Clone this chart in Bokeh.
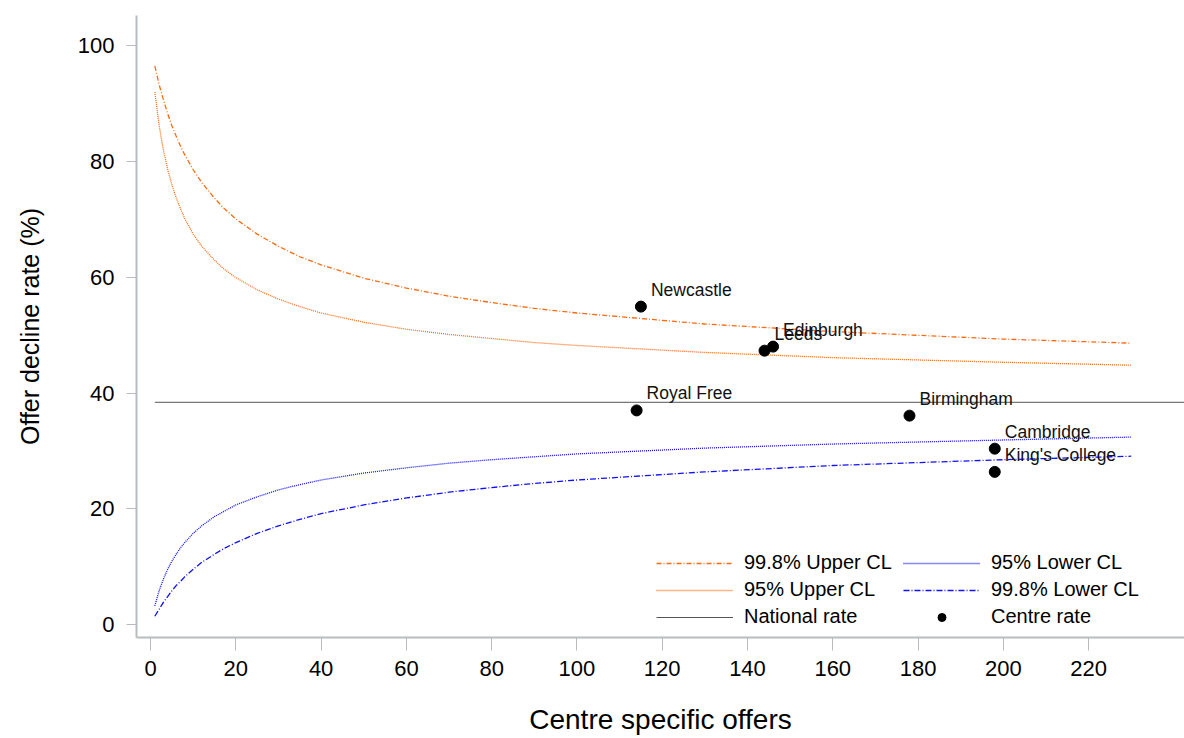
from bokeh.plotting import figure
from bokeh.models import Range1d, Legend, LegendItem, FixedTicker, ColumnDataSource
from bokeh.core.properties import value
from bokeh.embed import file_html
from bokeh.resources import INLINE

# Control limits (percent) at selected numbers of offers
n_offers = [1, 2, 3, 4, 5, 6, 7, 8, 10, 12, 15, 17, 20, 25, 30, 35, 40, 50, 60, 70, 80, 90, 100, 130, 160, 200, 230]
upper_998 = [96.4, 93.2, 90.6, 88.2, 86.1, 84.3, 82.6, 81.1, 78.5, 76.3, 73.6, 72.0, 70.0, 67.4, 65.3, 63.5, 62.1,
             59.8, 58.1, 56.7, 55.6, 54.6, 53.8, 51.9, 50.6, 49.3, 48.6]
upper_95 = [91.9, 86.2, 81.9, 78.6, 75.9, 73.7, 71.8, 70.1, 67.4, 65.3, 62.9, 61.5, 59.9, 57.8, 56.2, 54.9, 53.8,
            52.2, 51.0, 50.1, 49.4, 48.7, 48.2, 47.0, 46.1, 45.3, 44.8]
lower_95 = [3.3, 5.9, 7.9, 9.6, 11.0, 12.2, 13.3, 14.2, 15.8, 17.1, 18.7, 19.5, 20.7, 22.1, 23.3, 24.2, 25.0,
            26.2, 27.1, 27.9, 28.5, 29.0, 29.5, 30.5, 31.2, 31.9, 32.4]
lower_998 = [1.5, 2.7, 3.9, 4.9, 5.9, 6.8, 7.5, 8.3, 9.6, 10.8, 12.2, 13.1, 14.2, 15.8, 17.1, 18.2, 19.2,
             20.7, 21.9, 22.9, 23.7, 24.4, 25.0, 26.4, 27.5, 28.5, 29.1]

national_rate = 38.4
national_x = [1, 242.5]

centres = ["Newcastle", "Royal Free", "Leeds", "Edinburgh", "Birmingham", "Cambridge", "King's College"]
centre_offers = [115, 114, 144, 146, 178, 198, 198]
centre_rate = [54.9, 37.0, 47.3, 48.0, 36.1, 30.4, 26.4]

x_ticks = [0, 20, 40, 60, 80, 100, 120, 140, 160, 180, 200, 220]
y_ticks = [0, 20, 40, 60, 80, 100]

FONT = "Liberation Sans"
ORANGE = "#ff6a10"
BLUE = "#1010ff"
AXIS_GREY = "#b8bcc0"

p = figure(width=1184, height=738, output_backend="svg", toolbar_location=None,
           x_range=Range1d(-3.3, 242.5), y_range=Range1d(-2.16, 105.1),
           min_border_left=136, min_border_right=0, min_border_top=15, min_border_bottom=101)
p.xgrid.visible = False
p.ygrid.visible = False
p.outline_line_color = None
p.background_fill_color = "white"

r_u998 = p.line(n_offers, upper_998, line_color=ORANGE, line_width=1.3, line_dash="5 2 1 2")
r_u95 = p.line(n_offers, upper_95, line_color=ORANGE, line_width=1.3, line_dash="1 1")
r_l95 = p.line(n_offers, lower_95, line_color=BLUE, line_width=1.3, line_dash="1 1")
r_l998 = p.line(n_offers, lower_998, line_color=BLUE, line_width=1.3, line_dash="6 2 1 2")
r_nat = p.line(national_x, [national_rate, national_rate], line_color="#555555", line_width=1)

src = ColumnDataSource(dict(x=centre_offers, y=centre_rate, name=centres))
r_pts = p.scatter("x", "y", source=src, size=11, fill_color="black", line_color="black")
p.text("x", "y", text="name", source=src, x_offset=10, y_offset=-17,
       text_font=value(FONT), text_font_size="17.5px", text_color="#111111",
       text_baseline="middle", text_align="left")

for ax in (p.xaxis[0], p.yaxis[0]):
    ax.axis_line_color = AXIS_GREY
    ax.axis_line_width = 2
    ax.major_tick_line_color = AXIS_GREY
    ax.major_tick_line_width = 1
    ax.minor_tick_line_color = None
    ax.major_tick_in = 0
    ax.major_label_text_font = FONT
    ax.major_label_text_font_size = "22px"
    ax.major_label_text_color = "black"
    ax.axis_label_text_font = FONT
    ax.axis_label_text_font_style = "normal"
    ax.axis_label_text_color = "black"

p.xaxis[0].ticker = FixedTicker(ticks=x_ticks)
p.yaxis[0].ticker = FixedTicker(ticks=y_ticks)
p.xaxis[0].major_tick_out = 13
p.yaxis[0].major_tick_out = 10
p.xaxis[0].major_label_standoff = 10
p.yaxis[0].major_label_standoff = 12
p.xaxis[0].axis_label = "Centre specific offers"
p.yaxis[0].axis_label = "Offer decline rate (%)"
p.xaxis[0].axis_label_text_font_size = "28px"
p.yaxis[0].axis_label_text_font_size = "25px"
p.xaxis[0].axis_label_standoff = 25
p.yaxis[0].axis_label_standoff = 31

legend = Legend(items=[
    LegendItem(label="99.8% Upper CL", renderers=[r_u998]),
    LegendItem(label="95% Upper CL", renderers=[r_u95]),
    LegendItem(label="National rate", renderers=[r_nat]),
    LegendItem(label="95% Lower CL", renderers=[r_l95]),
    LegendItem(label="99.8% Lower CL", renderers=[r_l998]),
    LegendItem(label="Centre rate", renderers=[r_pts]),
], location=(520, 9), nrows=3, orientation="vertical")
legend.label_text_font = FONT
legend.label_text_font_size = "20px"
legend.label_text_color = "black"
legend.label_width = 155
legend.glyph_width = 77
legend.glyph_height = 20
legend.label_standoff = 11
legend.spacing = 4
legend.padding = 10
legend.margin = 0
legend.border_line_color = None
legend.background_fill_alpha = 0
p.add_layout(legend, "center")

open("out.html", "w").write(file_html(p, INLINE))
